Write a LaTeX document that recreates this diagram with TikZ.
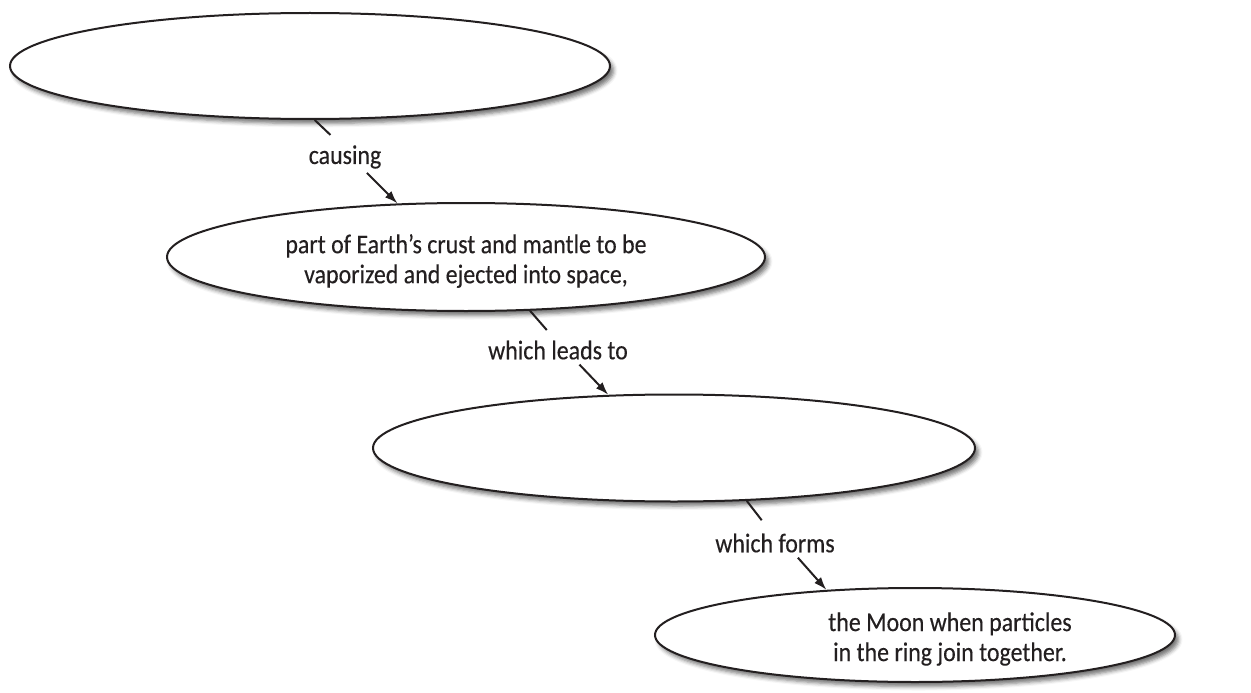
\documentclass[tikz,border=0pt]{standalone}
\usepackage{fontspec}
\setmainfont{Carlito}[FakeStretch=0.885, FakeBold=0.3]
\usepackage{xcolor}
\usetikzlibrary{arrows.meta, shapes.geometric, shadows.blur}
\definecolor{ink}{RGB}{35,31,32}

\begin{document}
\begin{tikzpicture}[
    x=1pt, y=-1pt,
    oval/.style={draw=ink, ellipse, line width=2pt, fill=white, inner sep=0pt,
                 blur shadow={shadow xshift=3.5pt, shadow yshift=-4.5pt,
                              shadow blur radius=4pt, shadow opacity=55}},
    txt/.style={text=ink, align=center, inner sep=0pt},
    lbl/.style={text=ink, inner sep=2pt},
    stub/.style={draw=ink, line width=2pt},
    arr/.style={-{Latex[length=13pt, width=9pt]}, draw=ink, line width=2pt},
    font=\fontsize{27pt}{30pt}\selectfont
]
    \useasboundingbox (0,0) rectangle (1251,693);

    % the four ovals
    \node[oval, minimum width=600pt, minimum height=106pt] (e1) at (310,66) {};
    \node[oval, minimum width=598pt, minimum height=108pt] (e2) at (466,257) {};
    \node[oval, minimum width=602pt, minimum height=107pt] (e3) at (674,448) {};
    \node[oval, minimum width=520pt, minimum height=94pt]  (e4) at (915,635) {};

    \node[txt] (t2) at (466,261) {part of Earth’s crust and mantle to be\\vaporized and ejected into space,};
    \node[txt] (t4) at (950,639) {the Moon when particles\\in the ring join together.};

    % linking words
    \node[lbl] (l1) at (345,157) {causing};
    \node[lbl] (l2) at (558,350) {which leads to};
    \node[lbl] (l3) at (775,543) {which forms};

    \draw[stub, shorten >=12pt] (e1.-85) -- (l1.113);
    \draw[arr, shorten <=3pt] (l1.-35) -- (e2.142);
    \draw[stub, shorten >=11pt] (e2.-40) -- (l2.109);
    \draw[arr, shorten <=4pt] (l2.-32) -- (e3.141);
    \draw[stub, shorten >=14pt] (e3.-36) -- (l3.112);
    \draw[arr, shorten <=4pt] (l3.-30) -- (e4.153);
\end{tikzpicture}
\end{document}
